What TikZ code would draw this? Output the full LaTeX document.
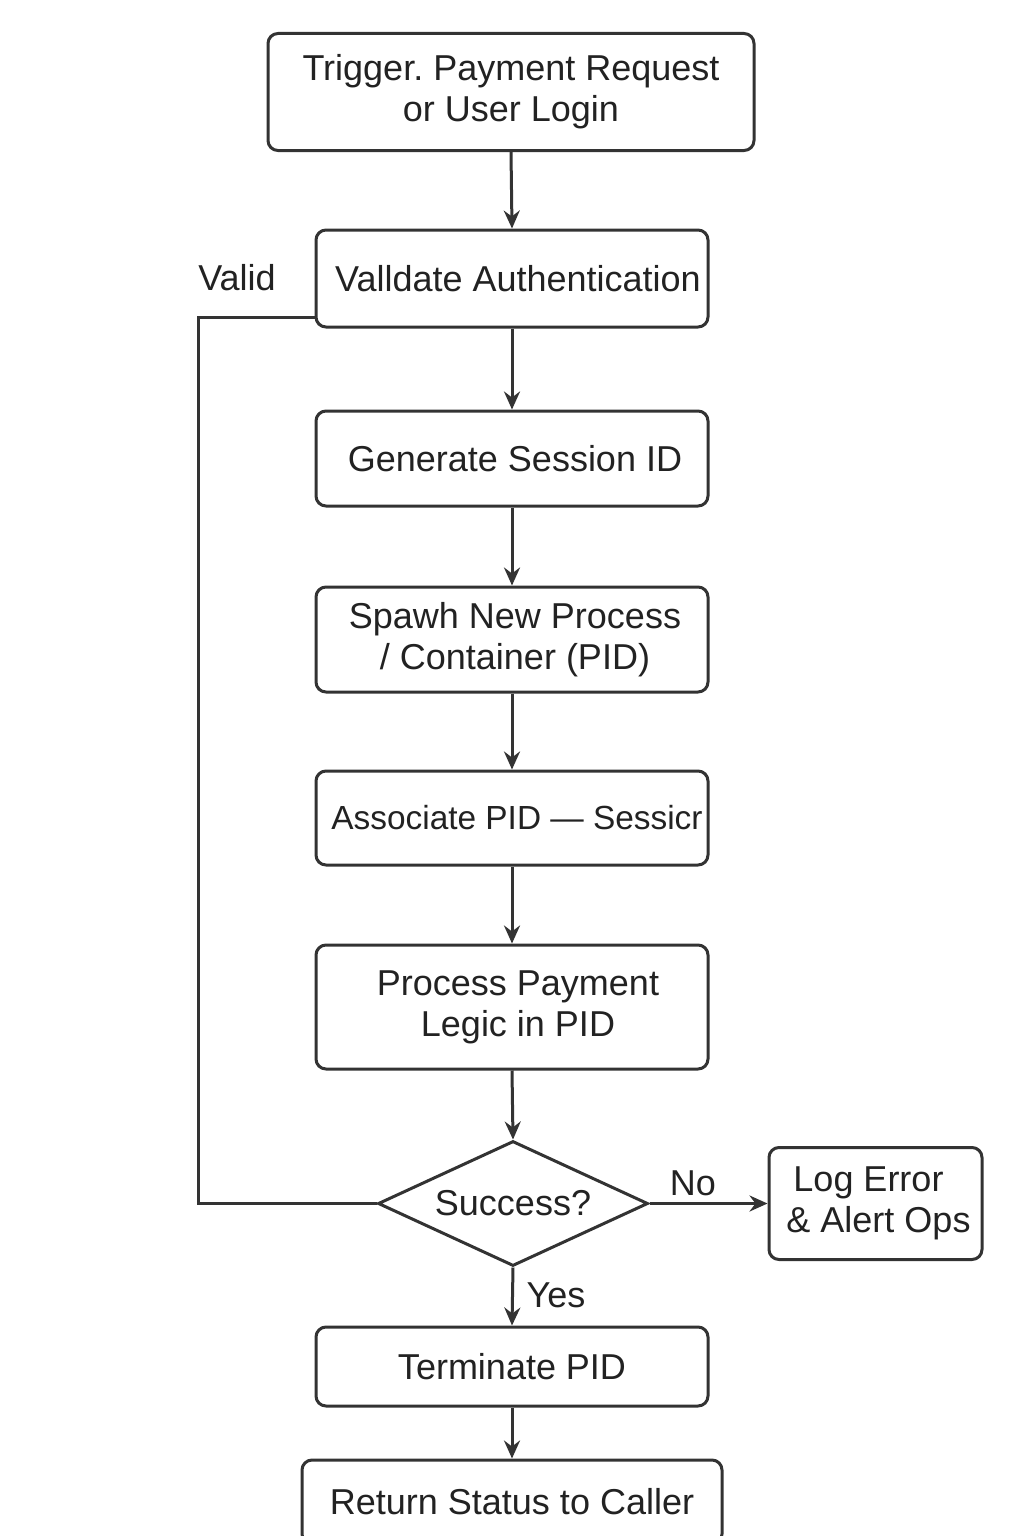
\documentclass[tikz,border=0pt]{standalone}
\usepackage{fontspec}
\setmainfont{Liberation Sans}
\usetikzlibrary{shapes.geometric,arrows.meta}
\definecolor{ink}{HTML}{333333}
\definecolor{txt}{HTML}{222222}
\begin{document}
\begin{tikzpicture}[x=0.5pt,y=-0.5pt,
  box/.style={draw=ink, line width=1.5pt, rounded corners=5pt, inner sep=0pt,
    align=center, text=txt, font=\fontsize{18}{20.5}\selectfont,
    minimum width=196pt},
  dia/.style={draw=ink, line width=1.5pt, diamond, aspect=2.16, inner sep=0pt,
    text=txt, font=\fontsize{18}{20.5}\selectfont,
    minimum width=135pt, minimum height=62.5pt},
  lbl/.style={text=txt, font=\fontsize{18}{20.5}\selectfont, inner sep=0pt},
  flow/.style={draw=ink, line width=1.5pt, -{Stealth[length=9pt,width=8pt,inset=3pt]}},
  plain/.style={draw=ink, line width=1.5pt}]
\clip (0,0) rectangle (1024,1536);
\fill[white] (0,0) rectangle (1024,1536);

\node[box, minimum width=243pt, minimum height=58.5pt] (trig) at (511,92) {Trigger.\ Payment Request\\or User Login};
\node[box, minimum height=48.5pt] (val) at (512,278.5) {\hspace*{6pt}Valldate Authentication};
\node[box, minimum height=47.5pt] (gen) at (512,458.5) {\hspace*{3pt}Generate Session ID};
\node[box, minimum height=52.5pt] (spawn) at (512,639.5) {\hspace*{3pt}Spawh New Process\\\hspace*{3pt}/ Container (PID)};
\node[box, minimum height=47pt] (assoc) at (512,818) {\makebox[150pt][c]{\fontsize{16.7}{20}\selectfont\hspace*{5pt}Associate PID — Sessicr}};
\node[box, minimum height=62pt] (proc) at (512,1007) {\hspace*{6pt}Process Payment\\\hspace*{6pt}Legic in PID};
\node[dia] (dec) at (513,1203.5) {Success?};
\node[box, minimum width=106.5pt, minimum height=56pt] (log) at (875.5,1203.5) {\hspace*{-7pt}Log Error\\\hspace*{3pt}\& Alert Ops};
\node[box, minimum height=39.5pt] (term) at (512,1366.5) {Terminate PID};
\node[box, minimum width=210pt, minimum height=42pt] (ret) at (512,1502) {Return Status to Caller};

\node[lbl] (lvalid) at (237,278) {Valid};
\node[lbl] (lno) at (693,1183) {No};
\node[lbl] (lyes) at (556,1295) {Yes};

\draw[flow] (trig.south) -- (val.north);
\draw[flow] (val.south) -- (gen.north);
\draw[flow] (gen.south) -- (spawn.north);
\draw[flow] (spawn.south) -- (assoc.north);
\draw[flow] (assoc.south) -- (proc.north);
\draw[flow] (proc.south) -- (dec.north);
\draw[flow] (dec.south) -- (term.north);
\draw[flow] (term.south) -- (ret.north);
\draw[flow] (dec.east) -- (log.west);

\coordinate (vstart) at ([yshift=5.5pt]val.south west);
\coordinate (vcorner) at (198,1203.5);
\draw[plain] (vstart) -| (vcorner) -- (dec.west);
\end{tikzpicture}
\end{document}
